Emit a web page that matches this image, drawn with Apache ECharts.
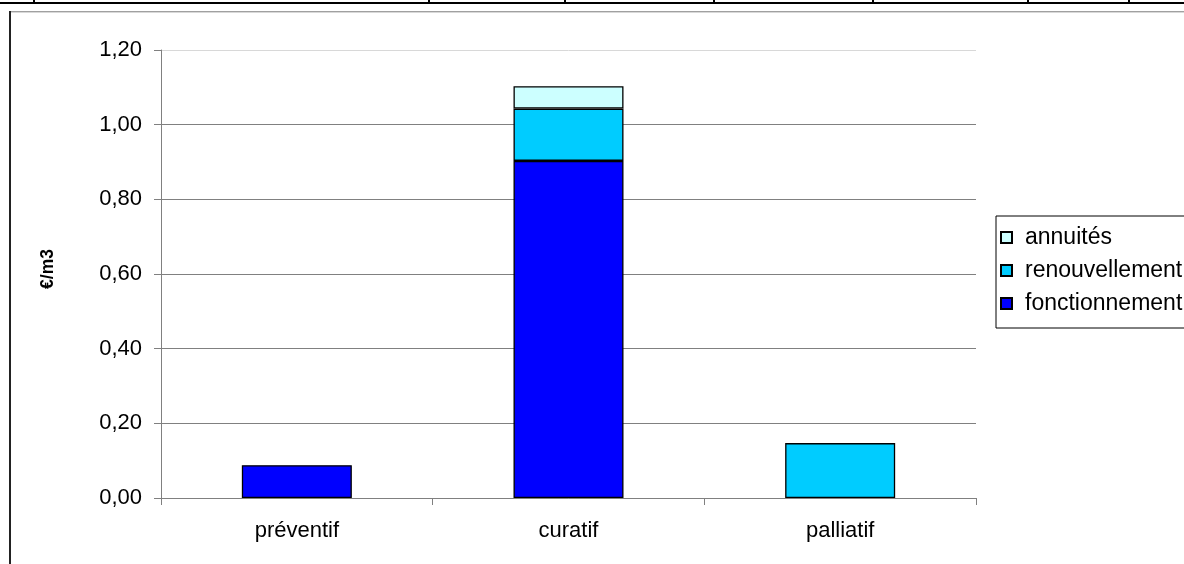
<!DOCTYPE html>
<html>
<head>
<meta charset="utf-8">
<script src="https://cdn.jsdelivr.net/npm/echarts@6/dist/echarts.min.js"></script>
<style>
html,body{margin:0;padding:0;background:#fff;overflow:hidden;}
#chart{width:1184px;height:564px;}
</style>
</head>
<body>
<div id="chart"></div>
<script>
const categories = ['préventif', 'curatif', 'palliatif'];
const fonctionnement = [0.088, 0.903, null];
const renouvellement = [null, 0.14, 0.147];
const annuites = [null, 0.06, null];
const yTicks = { min: 0, max: 1.2, interval: 0.2 };
const legendOrder = ['annuités', 'renouvellement', 'fonctionnement'];

const FONT = '"Liberation Sans", Arial, sans-serif';
const chart = echarts.init(document.getElementById('chart'));

function bar(name, data, color) {
  return {
    name: name, type: 'bar', stack: 'total', data: data,
    barWidth: 110,
    itemStyle: { color: color, borderColor: '#000', borderWidth: 1.3 },
    emphasis: { disabled: true }
  };
}

const topTicks = [33, 428, 564, 713, 872, 1027, 1128];
const graphics = [
  { type: 'rect', shape: { x: 0, y: 2, width: 1184, height: 2 }, style: { fill: '#000' }, silent: true },
  { type: 'rect', shape: { x: 9, y: 11, width: 1175, height: 1 }, style: { fill: '#a0a0a0' }, silent: true },
  { type: 'rect', shape: { x: 9, y: 12, width: 1175, height: 1 }, style: { fill: '#d8d8d8' }, silent: true },
  { type: 'rect', shape: { x: 9, y: 11, width: 2, height: 553 }, style: { fill: '#222' }, silent: true }
];
topTicks.forEach(function (x) {
  graphics.push({ type: 'rect', shape: { x: x, y: 0, width: 2, height: 3 }, style: { fill: '#000' }, silent: true });
});

chart.setOption({
  animation: false,
  textStyle: { fontFamily: FONT },
  graphic: graphics,
  grid: { left: 161, right: 208, top: 50, bottom: 66, containLabel: false },
  legend: {
    orient: 'vertical',
    left: 996, top: 216,
    data: legendOrder,
    icon: 'rect',
    itemWidth: 11, itemHeight: 11,
    itemGap: 10,
    borderColor: '#000', borderWidth: 1,
    padding: [10, 60, 13, 4],
    textStyle: { fontSize: 23, color: '#000', fontFamily: FONT, lineHeight: 23, padding: [0, 0, 0, 8] }
  },
  xAxis: {
    type: 'category',
    data: categories,
    axisLine: { lineStyle: { color: '#808080' } },
    axisTick: { show: true, length: 7, lineStyle: { color: '#808080' } },
    axisLabel: { fontSize: 22, color: '#000', margin: 22, fontFamily: FONT }
  },
  yAxis: {
    type: 'value',
    min: yTicks.min, max: yTicks.max, interval: yTicks.interval,
    name: '€/m3',
    nameLocation: 'middle',
    nameGap: 104,
    nameRotate: 90,
    nameTextStyle: { fontSize: 17.5, fontWeight: 'bold', color: '#000', fontFamily: FONT, padding: [0, 0, 0, 10] },
    axisLine: { show: true, lineStyle: { color: '#808080' } },
    axisTick: { show: true, length: 7, lineStyle: { color: '#808080' } },
    splitLine: { lineStyle: { color: ['#808080', '#808080', '#808080', '#808080', '#808080', '#808080', '#d8d8d8'] } },
    axisLabel: {
      fontSize: 22, color: '#000', margin: 19, fontFamily: FONT,
      formatter: function (v) { return v.toFixed(2).replace('.', ','); }
    }
  },
  series: [
    bar('fonctionnement', fonctionnement, '#0000FF'),
    bar('renouvellement', renouvellement, '#00CCFF'),
    bar('annuités', annuites, '#CCFFFF')
  ]
});
</script>
</body>
</html>
